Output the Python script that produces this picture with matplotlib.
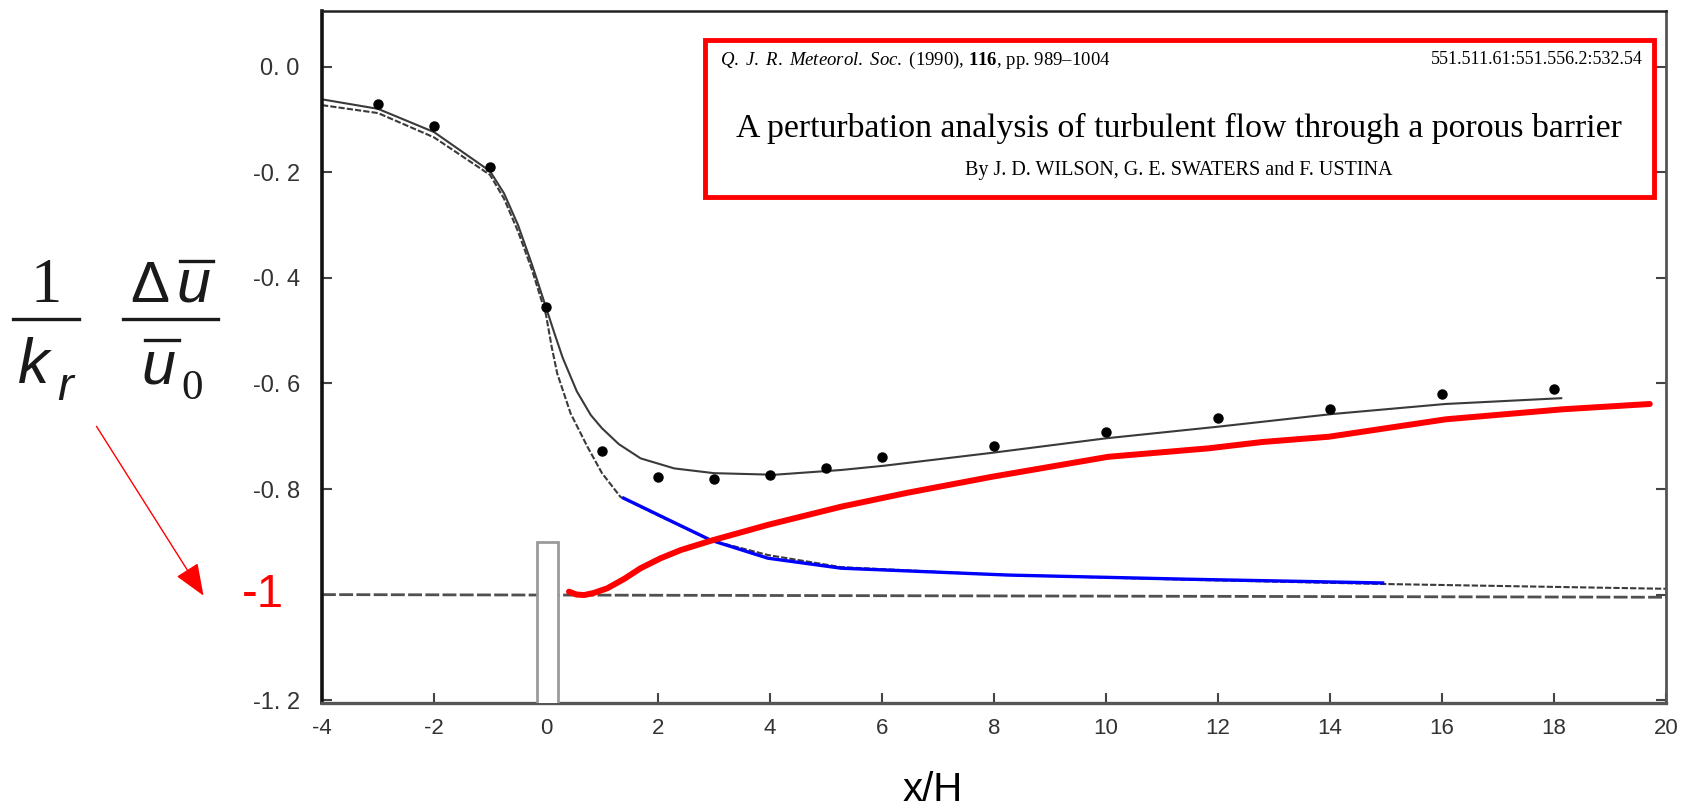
import matplotlib.pyplot as plt
import matplotlib.transforms as mtransforms
from matplotlib.lines import Line2D
from matplotlib.patches import Rectangle, FancyArrowPatch

W, H = 1684, 806

# measured velocity deficit (dots)
obs_x = [-3, -2, -1, 0, 1, 2, 3, 4, 5, 6, 8, 10, 12, 14, 16, 18]
obs_y = [-0.070, -0.113, -0.191, -0.456, -0.728, -0.777, -0.781, -0.773,
         -0.761, -0.740, -0.719, -0.692, -0.666, -0.649, -0.621, -0.611]

# model curve following the observations
fit_x = [-4, -3, -2, -1, -0.75, -0.5, -0.25, 0, 0.15, 0.3, 0.55, 0.8, 1.0,
         1.3, 1.69, 2.29, 3, 4.08, 5.27, 6.03, 8, 10, 12, 14.04, 16.06, 18.13]
fit_y = [-0.062, -0.080, -0.124, -0.198, -0.240, -0.300, -0.375, -0.456,
         -0.505, -0.552, -0.615, -0.660, -0.685, -0.715, -0.742, -0.761,
         -0.770, -0.773, -0.764, -0.756, -0.731, -0.704, -0.682, -0.658,
         -0.639, -0.628]

# second (dashed) model curve
dash_x = [-4, -3, -2, -1, -0.75, -0.5, -0.25, 0, 0.1, 0.2, 0.44, 0.74, 1.0,
          1.33, 2.0, 2.94, 3.96, 5.27, 8, 11.5, 15, 20]
dash_y = [-0.073, -0.088, -0.134, -0.205, -0.250, -0.312, -0.385, -0.470,
          -0.530, -0.581, -0.657, -0.720, -0.770, -0.815, -0.850, -0.897,
          -0.925, -0.948, -0.962, -0.972, -0.980, -0.989]

# reference level
ref_x = [-4, 20]
ref_y = [-1.0, -1.005]

# red curve
red_x = [0.41, 0.55, 0.68, 0.85, 1.095, 1.4, 1.69, 2.05, 2.41, 2.944, 3.96,
         5.27, 6.46, 7.955, 10.04, 11.83, 12.79, 13.98, 16.07, 18.16, 19.71]
red_y = [-0.9945, -1.0, -1.0008, -0.997, -0.988, -0.970, -0.950, -0.931,
         -0.9155, -0.898, -0.868, -0.8335, -0.807, -0.777, -0.739, -0.723,
         -0.711, -0.701, -0.668, -0.649, -0.639]

# blue curve
blue_x = [1.36, 2.944, 3.96, 5.27, 8.25, 11.53, 14.97]
blue_y = [-0.816, -0.897, -0.931, -0.950, -0.963, -0.971, -0.978]

# barrier outline
barrier_x = [-0.16, 0.21]
barrier_top = -0.900

xticks = list(range(-4, 21, 2))
yticks = [0.0, -0.2, -0.4, -0.6, -0.8, -1.0, -1.2]
ytick_labels = ['0. 0', '-0. 2', '-0. 4', '-0. 6', '-0. 8', '', '-1. 2']


def fx(px):
    return px / W


def fy(py):
    return 1 - py / H


fig = plt.figure(figsize=(W / 100, H / 100), dpi=100)
ax = fig.add_axes([fx(322), fy(703), (1666 - 322) / W, (703 - 11) / H])
ax.set_xlim(-4, 20)
ax.set_ylim(-1.2053, 0.1053)

ax.plot(ref_x, ref_y, color='#505050', lw=2.0, dashes=[5, 1.2])
ax.plot(dash_x, dash_y, color='#3a3a3a', lw=1.5, dashes=[3, 1])
ax.plot(fit_x, fit_y, color='#3a3a3a', lw=1.5)
ax.plot(obs_x, obs_y, 'o', color='black', ms=6.5)

ax.add_patch(Rectangle((barrier_x[0], -1.3), barrier_x[1] - barrier_x[0],
                       barrier_top + 1.3, facecolor='white',
                       edgecolor='#9a9a9a', lw=2.0, zorder=3))

ax.plot(blue_x, blue_y, color='blue', lw=2.4, solid_capstyle='butt', zorder=4)
ax.plot(red_x, red_y, color='red', lw=4.3, solid_capstyle='round', zorder=5)

ax.set_xticks(xticks)
ax.set_xticklabels([str(t) for t in xticks], family='Liberation Sans',
                   fontsize=16, color='#333333')
ax.set_yticks(yticks)
ax.set_yticklabels(ytick_labels, family='Liberation Sans', fontsize=17,
                   color='#333333')
ax.tick_params(axis='both', direction='in', length=7, width=1.5, color='#444444')
ax.tick_params(axis='y', pad=16, right=True)
ax.tick_params(axis='x', pad=11)

for side, lw, col in [('left', 2.6, '#111111'), ('bottom', 2.4, '#555555'),
                      ('top', 1.8, '#222222'), ('right', 2.0, '#555555')]:
    ax.spines[side].set_linewidth(lw)
    ax.spines[side].set_color(col)

# red -1 marker next to the axis
blend = mtransforms.blended_transform_factory(fig.transFigure, ax.transData)
ax.text(fx(284), -1.0, '-1', transform=blend, ha='right', va='center',
        fontsize=34, color='red', family='Liberation Sans')

# left-hand label: (1/k_r)(Δū/ū0)
ink = '#1a1a1a'
fig.text(fx(46.5), fy(302), '1', ha='center', va='baseline', fontsize=45,
         family='Liberation Serif', color=ink)
fig.text(fx(18), fy(383), 'k', ha='left', va='baseline', fontsize=45,
         family='Liberation Sans', style='italic', color=ink)
fig.text(fx(57), fy(400), 'r', ha='left', va='baseline', fontsize=34,
         family='Liberation Sans', style='italic', color=ink)
fig.text(fx(130), fy(302), 'Δ', ha='left', va='baseline', fontsize=42,
         family='Liberation Sans', color=ink)
fig.text(fx(176), fy(302), 'u', ha='left', va='baseline', fontsize=44,
         family='Liberation Sans', style='italic', color=ink)
fig.text(fx(141), fy(383), 'u', ha='left', va='baseline', fontsize=44,
         family='Liberation Sans', style='italic', color=ink)
fig.text(fx(181), fy(399), '0', ha='left', va='baseline', fontsize=31,
         family='Liberation Serif', color=ink)
for x0, x1, y in [(13, 79, 319), (123, 218, 319), (180, 213, 261), (145, 179, 340)]:
    fig.add_artist(Line2D([fx(x0), fx(x1)], [fy(y), fy(y)], color=ink, lw=2.4,
                          transform=fig.transFigure))

fig.add_artist(FancyArrowPatch((fx(95), fy(424)), (fx(205), fy(598)),
                               transform=fig.transFigure, color='red', lw=1.0,
                               arrowstyle='-|>,head_length=1.0,head_width=0.4',
                               mutation_scale=20))

fig.text(fx(933), fy(790), 'x/H', ha='center', va='center', fontsize=29,
         family='Liberation Sans', color='black')

# paper reference box
plt.rcParams['mathtext.fontset'] = 'custom'
plt.rcParams['mathtext.rm'] = 'Liberation Serif'
plt.rcParams['mathtext.it'] = 'Liberation Serif:italic'
plt.rcParams['mathtext.bf'] = 'Liberation Serif:bold'
fig.add_artist(Rectangle((fx(705), fy(197)), (1654 - 705) / W, (197 - 40) / H,
                         transform=fig.transFigure, facecolor='white',
                         edgecolor='red', lw=3.5, zorder=5))
fig.text(fx(720), fy(60), r'$\it{Q.\ J.\ R.\ Meteorol.\ Soc.}$ (1990), $\bf{116}$, pp. 989–1004',
         ha='left', va='center', fontsize=13.5, family='Liberation Serif', zorder=6)
fig.text(fx(1643), fy(60), '551.511.61:551.556.2:532.54', ha='right', va='center',
         fontsize=13, family='Liberation Serif', zorder=6)
fig.text(fx(1179), fy(128), 'A perturbation analysis of turbulent flow through a porous barrier',
         ha='center', va='center', fontsize=24.3, family='Liberation Serif', zorder=6)
fig.text(fx(1179), fy(170), 'By J. D. WILSON, G. E. SWATERS and F. USTINA',
         ha='center', va='center', fontsize=14.5, family='Liberation Serif', zorder=6)

fig.savefig('out.png', dpi=100)
